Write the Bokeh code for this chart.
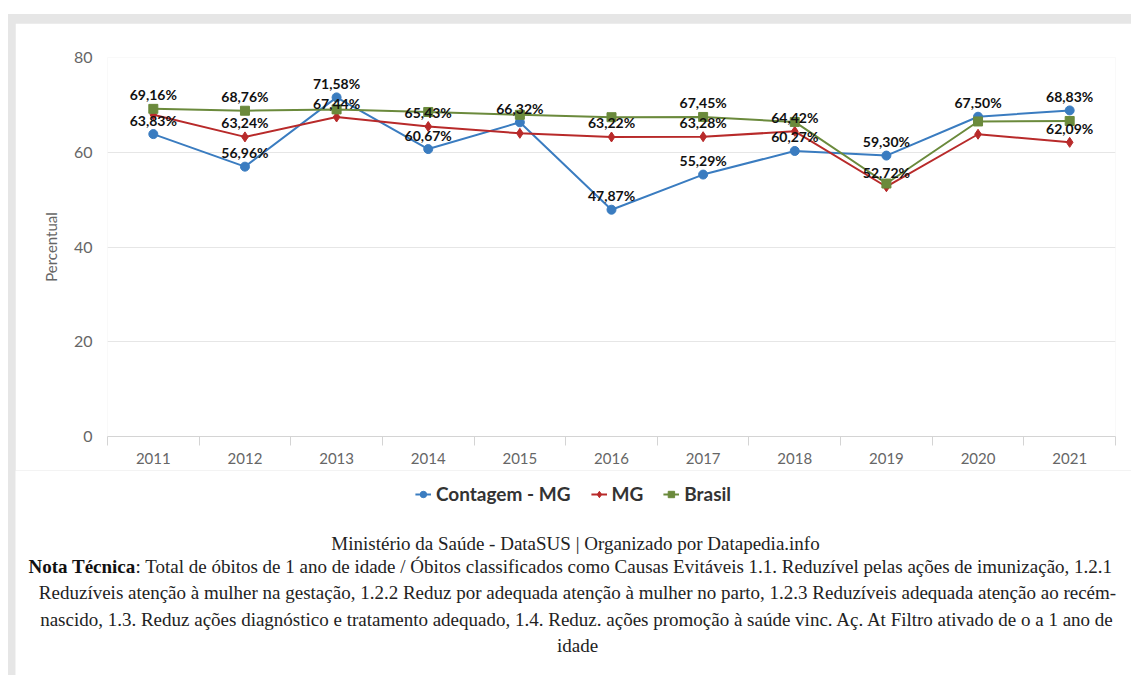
from bokeh.plotting import figure
from bokeh.models import (ColumnDataSource, Legend, LegendItem, FixedTicker, Range1d)
from bokeh.layouts import column
from bokeh.embed import file_html
from bokeh.resources import INLINE
from bokeh.core.properties import value

# ---------------- data ----------------
years = ["2011", "2012", "2013", "2014", "2015", "2016",
         "2017", "2018", "2019", "2020", "2021"]
contagem = [63.83, 56.96, 71.58, 60.67, 66.32, 47.87, 55.29, 60.27, 59.30, 67.50, 68.83]
mg = [67.90, 63.24, 67.44, 65.43, 64.00, 63.22, 63.28, 64.42, 52.72, 63.80, 62.09]
brasil = [69.16, 68.76, 69.05, 68.50, 67.90, 67.40, 67.45, 66.40, 53.40, 66.50, 66.60]
# which data labels are visible in the original (others hidden by overlap)
contagem_shown = [True] * 11
mg_shown = [False, True, True, True, False, True, True, True, True, False, True]
brasil_shown = [True, True, False, False, False, False, True, False, False, False, False]

series_names = ["Contagem - MG", "MG", "Brasil"]
y_ticks = [0, 20, 40, 60, 80]
y_label = "Percentual"
source_text = "Ministério da Saúde - DataSUS | Organizado por Datapedia.info"
note_bold = "Nota Técnica"
note_line1 = (": Total de óbitos de 1 ano de idade / Óbitos classificados como Causas "
              "Evitáveis 1.1. Reduzível pelas ações de imunização, 1.2.1")
note_lines = [
    "Reduzíveis atenção à mulher na gestação, 1.2.2 Reduz por adequada atenção à mulher "
    "no parto, 1.2.3 Reduzíveis adequada atenção ao recém-",
    "nascido, 1.3. Reduz ações diagnóstico e tratamento adequado, 1.4. Reduz. ações "
    "promoção à saúde vinc. Aç. At Filtro ativado de o a 1 ano de",
    "idade",
]

# ---------------- styling ----------------
BLUE = "#3a7cc0"
RED = "#b82a2a"
GREEN = "#6b8a3c"
SANS = "Lato"
SERIF = "Liberation Serif"
W = 1116
BAND = "#e6e6e6"

xs = list(range(len(years)))

p = figure(width=W, height=447,
           x_range=Range1d(-0.5, len(years) - 0.5), y_range=Range1d(0, 80),
           output_backend="svg", toolbar_location=None,
           min_border_left=92, min_border_right=16, min_border_top=34,
           min_border_bottom=34, margin=(9, 0, 0, 7))
p.outline_line_color = None
p.border_fill_color = "white"

# grid / axes
p.xgrid.visible = False
p.ygrid.grid_line_color = "#e6e6e6"

p.yaxis.ticker = FixedTicker(ticks=y_ticks)
p.yaxis.axis_line_color = None
p.yaxis.major_tick_line_color = None
p.yaxis.minor_tick_line_color = None
p.yaxis.major_tick_out = 0
p.yaxis.major_label_standoff = 15
p.yaxis.major_label_text_font = SANS
p.yaxis.major_label_text_font_size = "16px"
p.yaxis.major_label_text_color = "#666666"
p.yaxis.axis_label = y_label
p.yaxis.axis_label_text_font = SANS
p.yaxis.axis_label_text_font_style = "normal"
p.yaxis.axis_label_text_font_size = "15px"
p.yaxis.axis_label_text_color = "#666666"
p.yaxis.axis_label_standoff = 11

p.xaxis.ticker = FixedTicker(ticks=xs, minor_ticks=[i - 0.5 for i in range(len(years) + 1)])
p.xaxis.major_label_overrides = {i: y for i, y in enumerate(years)}
p.xaxis.axis_line_color = "#d4d4d4"
p.xaxis.major_tick_line_color = None
p.xaxis.major_tick_out = 0
p.xaxis.major_tick_in = 0
p.xaxis.minor_tick_line_color = "#d4d4d4"
p.xaxis.minor_tick_out = 9
p.xaxis.minor_tick_in = 0
p.xaxis.major_label_standoff = 7
p.xaxis.major_label_text_font = SANS
p.xaxis.major_label_text_font_size = "15px"
p.xaxis.major_label_text_color = "#666666"

all_series = [(contagem, contagem_shown, BLUE, "circle", 9),
              (mg, mg_shown, RED, "diamond", 10),
              (brasil, brasil_shown, GREEN, "square", 9)]
for (vals, shown, color, marker, size) in all_series:
    src = ColumnDataSource(dict(x=xs, y=vals))
    p.line("x", "y", source=src, line_color=color, line_width=2)
    p.scatter("x", "y", source=src, marker=marker, size=size,
              fill_color=color, line_color=color)

# data labels on top
for (vals, shown, color, marker, size) in all_series:
    lx = [x for x, s in zip(xs, shown) if s]
    ly = [v for v, s in zip(vals, shown) if s]
    lt = [f"{v:.2f}%".replace(".", ",") for v, s in zip(vals, shown) if s]
    lsrc = ColumnDataSource(dict(x=lx, y=ly, t=lt))
    p.text("x", "y", text="t", source=lsrc, y_offset=-14,
           text_align="center", text_baseline="middle",
           text_font=value(SANS), text_font_style="bold",
           text_font_size="14px", text_color="#111111")

# ---------------- footer: legend + notes ----------------
FH = 205
f = figure(width=W, height=FH, x_range=Range1d(0, W), y_range=Range1d(FH, 0),
           output_backend="svg", toolbar_location=None,
           x_axis_location=None, y_axis_location=None,
           min_border=0, margin=(0, 0, 0, 7))
f.outline_line_color = None
f.grid.visible = False
f.border_fill_color = "white"
f.background_fill_color = "white"

items = []
for (vals, shown, color, marker, size), name in zip(all_series, series_names):
    # legend-only renderers (their single point lies outside the visible range)
    ln = f.line([-50, -40], [-50, -50], line_color=color, line_width=2)
    mk = f.scatter([-50], [-50], marker=marker, size=size - 2,
                   fill_color=color, line_color=color)
    items.append(LegendItem(label=name, renderers=[ln, mk]))

legend = Legend(items=items, orientation="horizontal", location="top_center",
                label_text_font=SANS, label_text_font_style="bold",
                label_text_font_size="19px", label_text_color="#333333",
                glyph_width=16, glyph_height=18, label_standoff=5, spacing=20,
                border_line_color=None, background_fill_alpha=0,
                margin=12, padding=4)
f.add_layout(legend, "center")

FS = "19px"
TC = "#222222"
f.text(x=[560], y=[73], text=[source_text], text_align="center", text_baseline="middle",
       text_font=value(SERIF), text_font_size=FS, text_color=TC)
f.text(x=[13], y=[96], text=[note_bold], text_align="left", text_baseline="middle",
       text_font=value(SERIF), text_font_style="bold", text_font_size=FS, text_color="#111111")
f.text(x=[120], y=[96], text=[note_line1], text_align="left", text_baseline="middle",
       text_font=value(SERIF), text_font_size=FS, text_color=TC)
f.text(x=[562] * len(note_lines), y=[122 + 26.5 * i for i in range(len(note_lines))],
       text=note_lines, text_align="center", text_baseline="middle",
       text_font=value(SERIF), text_font_size=FS, text_color=TC)

top = column(p, styles={"background-color": BAND}, margin=(14, 0, 0, 8))
bottom = column(f, styles={"background-color": BAND}, margin=(0, 0, 0, 8))

open("out.html", "w").write(file_html([top, bottom], INLINE))
